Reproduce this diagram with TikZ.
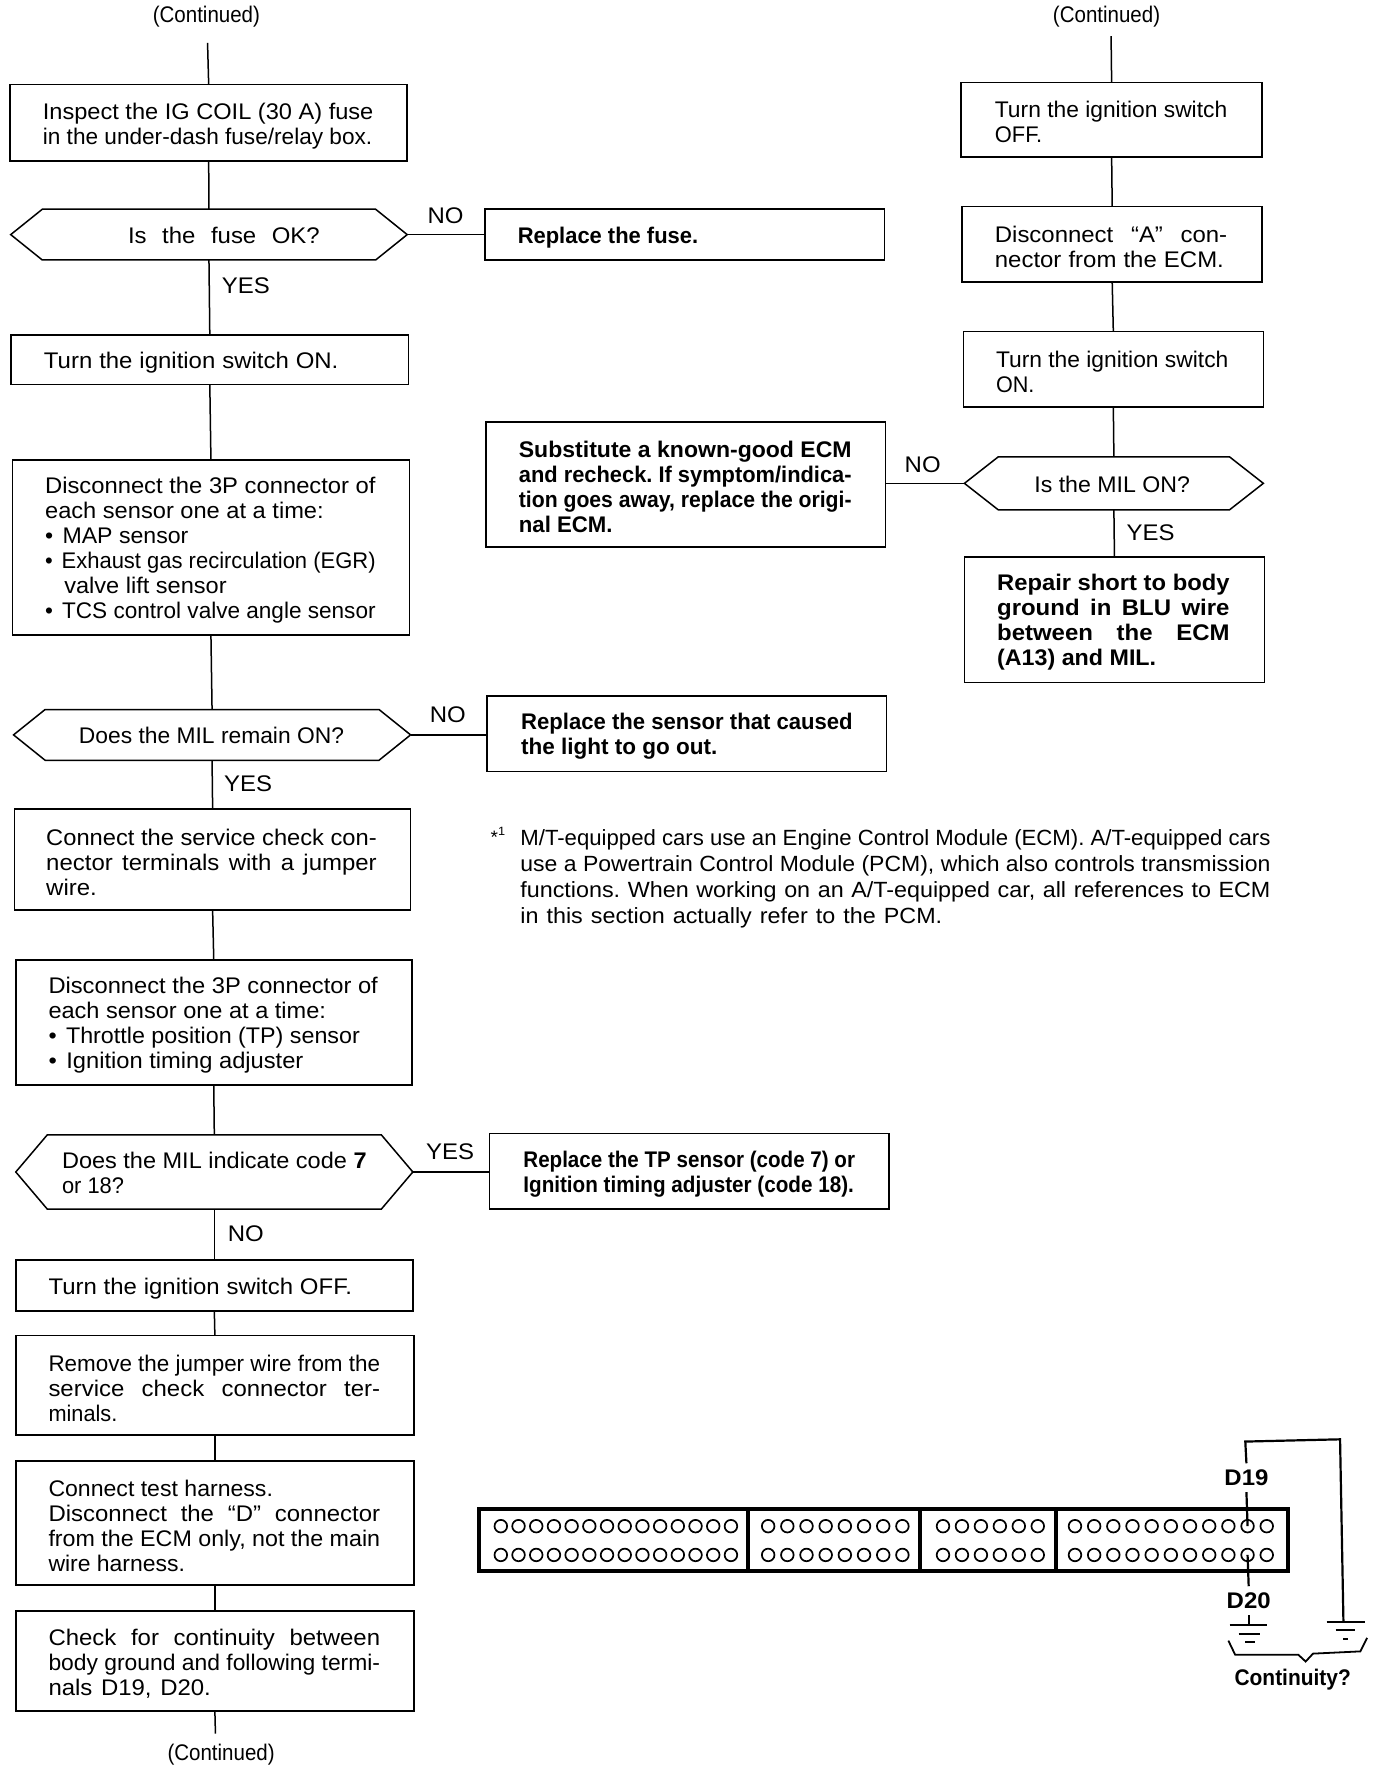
\documentclass[tikz,border=0pt]{standalone}
\usepackage{fontspec}
\setmainfont[FakeStretch=1.06]{Liberation Sans}
\usetikzlibrary{calc}
\newdimen\upx \upx=0.564pt
\newsavebox\lfitbox
\def\ldrop{2.5}
% one line of text brought to a width: spaces stretch if it is short, the line is condensed if it is long
\newcommand\lfit[2]{\sbox\lfitbox{\frenchspacing\spaceskip=0pt\xspaceskip=0pt #2}\raisebox{-\ldrop\upx}[\height][\depth]{\ifdim\wd\lfitbox<#1\upx\relax\makebox[#1\upx][s]{\frenchspacing\spaceskip=0pt\xspaceskip=0pt #2}\else\resizebox{#1\upx}{\height}{\frenchspacing\spaceskip=0pt\xspaceskip=0pt #2}\fi}}
\newcommand\bul{\makebox[16\upx][l]{•}}
% box: [style]{name}{x1}{y1}{x2}{y2}{left pad}{text}
\newcommand\bx[8][]{%
  \pgfmathsetmacro\bxw{(#5-#3)*0.564}\pgfmathsetmacro\bxh{(#6-#4)*0.564}%
  \pgfmathsetmacro\bxt{(#5-#3-2*#7)*0.564}\pgfmathsetmacro\bxp{#7*0.564}%
  \node[flowbox,minimum width=\bxw pt,minimum height=\bxh pt,text width=\bxt pt,inner xsep=\bxp pt,#1] (#2) at ({(#3+#5)/2},{(#4+#6)/2}) {#8};}
% decision: {name}{x1}{y1}{x2}{y2}{shoulder}{left pad}{text}
\newcommand\hx[8]{%
  \def\ldrop{0.8}%
  \bx[draw=none]{#1}{#2}{#3}{#4}{#5}{#7}{#8}%
  \def\ldrop{2.5}%
  \draw[wire] (#1.west) -- ([xshift=#6\upx]#1.north west) -- ([xshift=-#6\upx]#1.north east) -- (#1.east) -- ([xshift=-#6\upx]#1.south east) -- ([xshift=#6\upx]#1.south west) -- cycle;}
\tikzset{
  wire/.style={line width=0.75pt,line join=miter,black},
  flowbox/.style={draw,line width=0.8pt,outer sep=0pt,inner ysep=0pt,align=left,font=\fontsize{11.3}{12.5}\selectfont},
  lab/.style={font=\fontsize{11.3}{13}\selectfont,inner sep=0pt},
  pin/.style={font=\fontsize{11.3}{13}\selectfont\bfseries,inner xsep=0pt,inner ysep=3pt},
  hole/.style={circle,draw,line width=0.85pt,minimum size=6.3pt,inner sep=0pt},
  wall/.style={line width=2pt},
}
\begin{document}
\begin{tikzpicture}[x=0.564pt,y=-0.564pt]
\useasboundingbox (0,0) rectangle (1219.86,1567.4);
% left column
\node[lab] (c1) at (183,12) {\lfit{95}{(Continued)}};
\coordinate (c1e) at (184,38);
\bx{b1}{9}{75}{361}{143}{29}{\lfit{293}{Inspect the IG COIL (30 A) fuse}\\\lfit{292}{in the under-dash fuse/relay box.}}
\hx{h1}{9.5}{185.5}{361}{230.5}{28}{104}{\lfit{170}{Is the fuse OK?}}
\bx{b2}{10}{297}{362}{341}{29}{\lfit{261}{Turn the ignition switch ON.}}
\bx{b3}{11}{408}{363}{563}{29}{\lfit{293}{Disconnect the 3P connector of}\\\lfit{247}{each sensor one at a time:}\\\lfit{127}{\bul MAP sensor}\\\lfit{293}{\bul Exhaust gas recirculation (EGR)}\\\hspace*{17\upx}\lfit{144}{valve lift sensor}\\\lfit{293}{\bul TCS control valve angle sensor}}
\hx{h2}{12}{629}{364}{674}{28}{58}{\lfit{235}{Does the MIL remain ON?}}
\bx{b4}{13}{717}{364}{807}{28}{\lfit{293}{Connect the service check con-}\\\lfit{293}{nector terminals with a jumper}\\\lfit{45}{wire.}}
\bx{b5}{14}{851}{365}{962}{29}{\lfit{292}{Disconnect the 3P connector of}\\\lfit{246}{each sensor one at a time:}\\\lfit{276}{\bul Throttle position (TP) sensor}\\\lfit{226}{\bul Ignition timing adjuster}}
\hx{h3}{14}{1006}{366}{1072}{28}{41}{\lfit{270}{Does the MIL indicate code \textbf{7}}\\\lfit{55}{or 18?}}
\bx{b6}{14}{1117}{366}{1162}{29}{\lfit{269}{Turn the ignition switch OFF.}}
\bx{b7}{14}{1184}{367}{1272}{29}{\lfit{294}{Remove the jumper wire from the}\\\lfit{294}{service check connector ter-}\\\lfit{61}{minals.}}
\bx{b8}{14}{1295}{367}{1405}{29}{\lfit{199}{Connect test harness.}\\\lfit{294}{Disconnect the “D” connector}\\\lfit{294}{from the ECM only, not the main}\\\lfit{121}{wire harness.}}
\bx[line width=1.1pt]{b9}{14}{1428}{367}{1517}{29}{\lfit{294}{Check for continuity between}\\\lfit{294}{body ground and following termi-}\\\lfit{144}{nals D19, D20.}}
\node[lab] (c3) at (196,1553) {\lfit{95}{(Continued)}};
\coordinate (c3e) at (191,1537);
% middle column
\bx{fuse}{430}{185.5}{784}{230.5}{29}{\lfit{160}{\textbf{Replace the fuse.}}}
\bx{subst}{431}{374}{785}{485}{29}{\lfit{295}{\textbf{Substitute a known-good ECM}}\\\lfit{295}{\textbf{and recheck. If symptom/indica-}}\\\lfit{295}{\textbf{tion goes away, replace the origi-}}\\\lfit{83}{\textbf{nal ECM.}}}
\bx{sens}{432}{617}{786}{684}{30}{\lfit{294}{\textbf{Replace the sensor that caused}}\\\lfit{174}{\textbf{the light to go out.}}}
\bx{tp}{434}{1005}{788}{1072}{30}{\lfit{294}{\textbf{Replace the TP sensor (code 7) or}}\\\lfit{293}{\textbf{Ignition timing adjuster (code 18).}}}
% right column
\node[lab] (c2) at (981,12) {\lfit{95}{(Continued)}};
\coordinate (c2e) at (985,32);
\bx{r1}{852}{73}{1119}{139}{30}{\lfit{206}{Turn the ignition switch}\\\lfit{42}{OFF.}}
\bx{r2}{853}{183}{1119}{250}{29}{\lfit{206}{Disconnect “A” con-}\\\lfit{203}{nector from the ECM.}}
\bx{r3}{854}{294}{1120}{361}{29}{\lfit{206}{Turn the ignition switch}\\\lfit{34}{ON.}}
\hx{h4}{855}{405}{1120}{452}{30}{62}{\lfit{138}{Is the MIL ON?}}
\bx{r4}{855}{494}{1121}{605}{29}{\lfit{206}{\textbf{Repair short to body}}\\\lfit{206}{\textbf{ground in BLU wire}}\\\lfit{206}{\textbf{between the ECM}}\\\lfit{141}{\textbf{(A13) and MIL.}}}
% note
\node[lab] (star) at (444,738) {\lfit{18}{\fontsize{9}{9}\selectfont *\textsuperscript{1}}};
\node[lab,anchor=north west,align=left,font=\fontsize{11}{12.9}\selectfont] (note) at (461,733) {\lfit{665}{M/T-equipped cars use an Engine Control Module (ECM). A/T-equipped cars}\\\lfit{665}{use a Powertrain Control Module (PCM), which also controls transmission}\\\lfit{665}{functions. When working on an A/T-equipped car, all references to ECM}\\\lfit{374}{in this section actually refer to the PCM.}};
% connectors
\draw[wire] (c1e) -- (b1.north);
\draw[wire] (b1.south) -- (h1.north);
\draw[wire] (h1.south) -- (b2.north);
\draw[wire] (b2.south) -- (b3.north);
\draw[wire] (b3.south) -- (h2.north);
\draw[wire] (h2.south) -- (b4.north);
\draw[wire] (b4.south) -- (b5.north);
\draw[wire] (b5.south) -- (h3.north);
\draw[wire] (h3.south) -- (b6.north);
\draw[wire] (b6.south) -- (b7.north);
\draw[wire] (b7.south) -- (b8.north);
\draw[wire] (b8.south) -- (b9.north);
\draw[wire] (b9.south) -- (c3e);
\draw[wire] (h1.east) -- (h1.east -| fuse.west);
\draw[wire] (h2.east) -- (h2.east -| sens.west);
\draw[wire] (h3.east) -- (h3.east -| tp.west);
\draw[wire] (c2e) -- (r1.north);
\draw[wire] (r1.south) -- (r2.north);
\draw[wire] (r2.south) -- (r3.north);
\draw[wire] (r3.south) -- (h4.north);
\draw[wire] (h4.south) -- (r4.north);
\draw[wire] (h4.west) -- (h4.west -| subst.east);
% branch labels
\node[lab] (n1) at (395,191) {NO};
\node[lab] (y1) at (218,253) {YES};
\node[lab] (n2) at (397,634) {NO};
\node[lab] (y2) at (220,695) {YES};
\node[lab] (y3) at (399,1021) {YES};
\node[lab] (n3) at (218,1094) {NO};
\node[lab] (n4) at (818,412) {NO};
\node[lab] (y4) at (1020,472) {YES};
% ECM connector
\node[draw,wall,outer sep=0pt,minimum width=404.4pt,minimum height=31pt] (shell) at (783.5,1365.5) {};
\draw[wall] (663,1338) -- (663,1393);
\draw[wall] (816,1338) -- (816,1393);
\draw[wall] (936,1338) -- (936,1393);
\foreach \g/\xa/\xb/\n in {1/444/648/14,2/681/800/8,3/836/920/6,4/953/1123/11}{
  \foreach \c in {1,...,\n}{
    \foreach \r/\yy in {t/1353,b/1378.5}{
      \pgfmathsetmacro\xx{\xa+(\c-1)*(\xb-\xa)/(\n-1)}
      \node[hole] (h\g\r\c) at (\xx,\yy) {};
    }
  }
}
\node[pin] (d19) at (1105,1310) {D19};
\node[pin] (d20) at (1107,1419) {D20};
\node[lab,font=\fontsize{11.3}{13}\selectfont\bfseries] (cont) at (1146,1487) {\lfit{103}{Continuity?}};
\coordinate (wa) at (1104,1278);
\coordinate (wb) at (1188,1276);
\coordinate (g1) at (1107,1440.5);
\coordinate (g2) at (1191,1438);
\draw[line width=1.1pt] (h4t10.center) -- (d19.south);
\draw[line width=1.1pt] (d19.north) -- (wa) -- (wb) -- (g2);
\draw[line width=1.1pt] (h4b10.center) -- (d20.north);
\draw[line width=1.1pt] (d20.south) -- (g1);
% grounds
\draw[wire] (1090,1440.5) -- (1123,1440.5);
\draw[line width=1pt] (1098,1449) -- (1117,1449);
\draw[line width=1pt] (1104,1456) -- (1113,1456);
\draw[wire] (1176,1438) -- (1210,1438);
\draw[line width=1pt] (1184,1445) -- (1201,1445);
\draw[line width=1pt] (1191,1453) -- (1195,1453);
% brace
\draw[line width=0.9pt] (1089,1454.5) -- (1095,1467) -- (1151,1467) -- (1157.5,1473) -- (1164,1466) -- (1206,1464) -- (1212,1452);
\end{tikzpicture}
\end{document}
